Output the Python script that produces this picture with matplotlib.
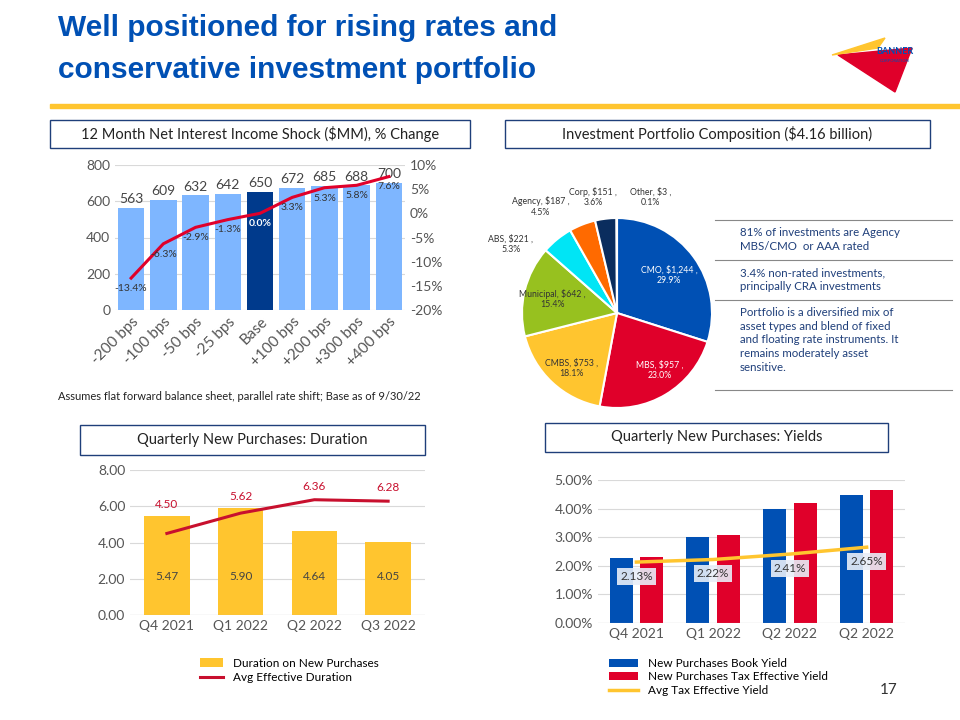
import matplotlib
matplotlib.use("Agg")
import matplotlib.pyplot as plt
from matplotlib.patches import Rectangle, Polygon

plt.rcParams['font.family'] = ['Lato', 'DejaVu Sans']

# ---- data ----
shock_labels = ['-200 bps', '-100 bps', '-50 bps', '-25 bps', 'Base', '+100 bps', '+200 bps', '+300 bps', '+400 bps']
shock_nii = [563, 609, 632, 642, 650, 672, 685, 688, 700]
shock_pct = [-13.4, -6.3, -2.9, -1.3, 0.0, 3.3, 5.3, 5.8, 7.6]

pie_labels = ['CMO', 'MBS', 'CMBS', 'Municipal', 'ABS', 'Agency', 'Corp', 'Other']
pie_values = [1244, 957, 753, 642, 221, 187, 151, 3]
pie_pcts = [29.9, 23.0, 18.1, 15.4, 5.3, 4.5, 3.6, 0.1]
pie_colors = ['#0050b4', '#e0002a', '#ffc52f', '#97c11f', '#00e5f5', '#ff6a00', '#0a2d5e', '#a0a0a0']

quarters = ['Q4 2021', 'Q1 2022', 'Q2 2022', 'Q3 2022']
dur_new = [5.47, 5.90, 4.64, 4.05]
dur_avg = [4.50, 5.62, 6.36, 6.28]

yield_quarters = ['Q4 2021', 'Q1 2022', 'Q2 2022', 'Q2 2022']
book_yield = [2.26, 3.00, 4.00, 4.48]
tax_yield = [2.30, 3.07, 4.20, 4.65]
avg_tax_yield = [2.13, 2.22, 2.41, 2.65]

W, H = 960, 720
fig = plt.figure(figsize=(9.6, 7.2), dpi=100)


def ax_px(x0, y0, x1, y1, **kw):
    return fig.add_axes([x0 / W, 1 - y1 / H, (x1 - x0) / W, (y1 - y0) / H], **kw)


def box_title(x0, y0, x1, y1, text):
    fig.patches.append(Rectangle((x0 / W, 1 - y1 / H), (x1 - x0) / W, (y1 - y0) / H,
                                 transform=fig.transFigure, fill=False, ec='#1f3f7a', lw=1))
    fig.text((x0 + x1) / 2 / W, 1 - (y0 + y1) / 2 / H, text, ha='center', va='center',
             fontsize=10.5, color='#222222')


def style(ax):
    for s in ax.spines.values():
        s.set_visible(False)
    ax.tick_params(length=0, colors='#555555', labelsize=10)
    ax.grid(axis='y', color='#d9d9d9', lw=0.8)
    ax.set_axisbelow(True)


# ---- header ----
fig.text(58 / W, 1 - 28 / H, 'Well positioned for rising rates and', fontsize=21.5, fontweight='bold',
         color='#0050b4', va='center', family=['Liberation Sans'])
fig.text(58 / W, 1 - 70 / H, 'conservative investment portfolio', fontsize=21.5, fontweight='bold',
         color='#0050b4', va='center', family=['Liberation Sans'])
fig.patches.append(Rectangle((50 / W, 1 - 108 / H), 910 / W, 4 / H, transform=fig.transFigure,
                             color='#ffc52f'))
fig.patches.append(Polygon([(838 / W, 1 - 55 / H), (912 / W, 1 - 48 / H), (895 / W, 1 - 92 / H)],
                           transform=fig.transFigure, color='#e0002a'))
fig.patches.append(Polygon([(832 / W, 1 - 55 / H), (885 / W, 1 - 38 / H), (878 / W, 1 - 48 / H)],
                           transform=fig.transFigure, color='#ffc52f'))
fig.text(895 / W, 1 - 54 / H, 'BANNER', fontsize=6.5, color='#0050b4', ha='center', fontweight='bold')
fig.text(895 / W, 1 - 62 / H, 'CORPORATION', fontsize=3, color='#0050b4', ha='center')
fig.text(880 / W, 1 - 690 / H, '17', fontsize=11, color='#333333', va='center')

# ---- NII shock ----
box_title(50, 120, 470, 148, '12 Month Net Interest Income Shock ($MM), % Change')
ax = ax_px(115, 165, 405, 310)
style(ax)
x = range(len(shock_labels))
cols = ['#7eb6ff'] * len(shock_labels)
cols[4] = '#003a8c'
ax.bar(x, shock_nii, width=0.82, color=cols)
ax.set_ylim(0, 800)
ax.set_yticks([0, 200, 400, 600, 800])
ax.set_xlim(-0.5, len(shock_labels) - 0.5)
ax.set_xticks(list(x))
ax.set_xticklabels(shock_labels, rotation=45, ha='right', rotation_mode='anchor', fontsize=11)
for i, v in enumerate(shock_nii):
    ax.text(i, v + 15, str(v), ha='center', va='bottom', fontsize=10, color='#444444')
ax2 = ax.twinx()
for s in ax2.spines.values():
    s.set_visible(False)
ax2.tick_params(length=0, colors='#555555', labelsize=10)
ax2.plot(list(x), shock_pct, color='#e0002a', lw=2.2)
ax2.set_ylim(-20, 10)
ax2.set_yticks(range(-20, 11, 5))
ax2.set_yticklabels([f'{t}%' for t in range(-20, 11, 5)])
for i, v in enumerate(shock_pct):
    ax2.text(i, v - 1.2, f'{v:.1f}%', ha='center', va='top', fontsize=7.5,
             color='white' if i == 4 else '#333333', fontweight='bold' if i == 4 else 'normal')
fig.text(58 / W, 1 - 396 / H, 'Assumes flat forward balance sheet, parallel rate shift; Base as of 9/30/22',
         fontsize=8, color='#222222', va='center')

# ---- pie ----
box_title(505, 120, 930, 148, 'Investment Portfolio Composition ($4.16 billion)')
pax = ax_px(522, 218, 712, 408)
pax.pie(pie_values, colors=pie_colors, startangle=90, counterclock=False,
        wedgeprops=dict(edgecolor='white', lw=1.5))
pax.set_xlim(-1, 1)
pax.set_ylim(-1, 1)
pax.set_aspect('equal')
inner = {'CMO': (0.55, 0.4, 'white'), 'MBS': (0.45, -0.6, 'white'),
         'CMBS': (-0.48, -0.58, '#333333'), 'Municipal': (-0.68, 0.15, '#333333')}
for lab, v, p in zip(pie_labels, pie_values, pie_pcts):
    if lab in inner:
        px, py, c = inner[lab]
        pax.text(px, py, f'{lab}, ${v:,} ,\n{p}%', ha='center', va='center', fontsize=6.3, color=c)
outer = {'ABS': (-1.12, 0.72), 'Agency': (-0.8, 1.12), 'Corp': (-0.25, 1.22), 'Other': (0.35, 1.22)}
for lab, v, p in zip(pie_labels, pie_values, pie_pcts):
    if lab in outer:
        px, py = outer[lab]
        pax.text(px, py, f'{lab}, ${v} ,\n{p}%', ha='center', va='center', fontsize=6.3,
                 color='#333333', clip_on=False)

notes = [(222, '81% of investments are Agency\nMBS/CMO  or AAA rated'),
         (262, '3.4% non-rated investments,\nprincipally CRA investments'),
         (302, 'Portfolio is a diversified mix of\nasset types and blend of fixed\nand floating rate instruments. It\nremains moderately asset\nsensitive.')]
for yy in [220, 260, 300, 390]:
    fig.lines.append(plt.Line2D([715 / W, 952 / W], [1 - yy / H, 1 - yy / H], transform=fig.transFigure,
                                color='#888888', lw=0.8))
for yy, t in notes:
    fig.text(740 / W, 1 - (yy + 5) / H, t, fontsize=8.3, color='#1f3f7a', va='top', linespacing=1.3)

# ---- duration ----
box_title(80, 425, 425, 455, 'Quarterly New Purchases: Duration')
dax = ax_px(130, 470, 425, 615)
style(dax)
qx = range(len(quarters))
b1 = dax.bar(qx, dur_new, width=0.62, color='#ffc52f', label='Duration on New Purchases')
l1, = dax.plot(list(qx), dur_avg, color='#c8102e', lw=2.2, label='Avg Effective Duration')
dax.set_ylim(0, 8)
dax.set_yticks([0, 2, 4, 6, 8])
dax.set_yticklabels([f'{t:.2f}' for t in [0, 2, 4, 6, 8]])
dax.set_xticks(list(qx))
dax.set_xticklabels(quarters, fontsize=10)
dax.set_xlim(-0.5, 3.5)
dax.axhline(0, color='#bbbbbb', lw=0.8)
for i, (b, l) in enumerate(zip(dur_new, dur_avg)):
    dax.text(i, 2.1, f'{b:.2f}', ha='center', va='center', fontsize=8.5, color='#444444')
    ly = max(b, l) + 0.35 if i < 2 else l + 0.45
    dax.text(i, ly, f'{l:.2f}', ha='center', va='bottom', fontsize=8.5, color='#c8102e')
dax.legend([b1, l1], [b1.get_label(), l1.get_label()], loc='upper left', bbox_to_anchor=(0.2, -0.22),
           frameon=False, fontsize=8.5, handlelength=2, labelspacing=0.3)

# ---- yields ----
box_title(545, 423, 888, 452, 'Quarterly New Purchases: Yields')
yax = ax_px(598, 480, 905, 623)
style(yax)
yq = list(range(len(yield_quarters)))
bw = 0.3
h1 = yax.bar([i - 0.2 for i in yq], book_yield, width=bw, color='#0050b4', label='New Purchases Book Yield')
h2 = yax.bar([i + 0.2 for i in yq], tax_yield, width=bw, color='#e0002a', label='New Purchases Tax Effective Yield')
h3, = yax.plot(yq, avg_tax_yield, color='#ffc52f', lw=2.5, label='Avg Tax Effective Yield')
yax.set_ylim(0, 5)
yax.set_yticks([0, 1, 2, 3, 4, 5])
yax.set_yticklabels([f'{t:.2f}%' for t in range(6)])
yax.set_xticks(yq)
yax.set_xticklabels(yield_quarters, fontsize=10)
yax.set_xlim(-0.5, 3.5)
yax.axhline(0, color='#bbbbbb', lw=0.8)
for i, v in enumerate(avg_tax_yield):
    yax.text(i, v - 0.5, f'{v:.2f}%', ha='center', va='center', fontsize=8.5, color='#333333',
             bbox=dict(boxstyle='square,pad=0.25', fc='#e8eef8', ec='none', alpha=0.9))
yax.legend([h1, h2, h3], [h.get_label() for h in (h1, h2, h3)], loc='upper left',
           bbox_to_anchor=(0.0, -0.17), frameon=False, fontsize=8.5, handlelength=2.5, labelspacing=0.2)

fig.savefig('out.png', dpi=100)
